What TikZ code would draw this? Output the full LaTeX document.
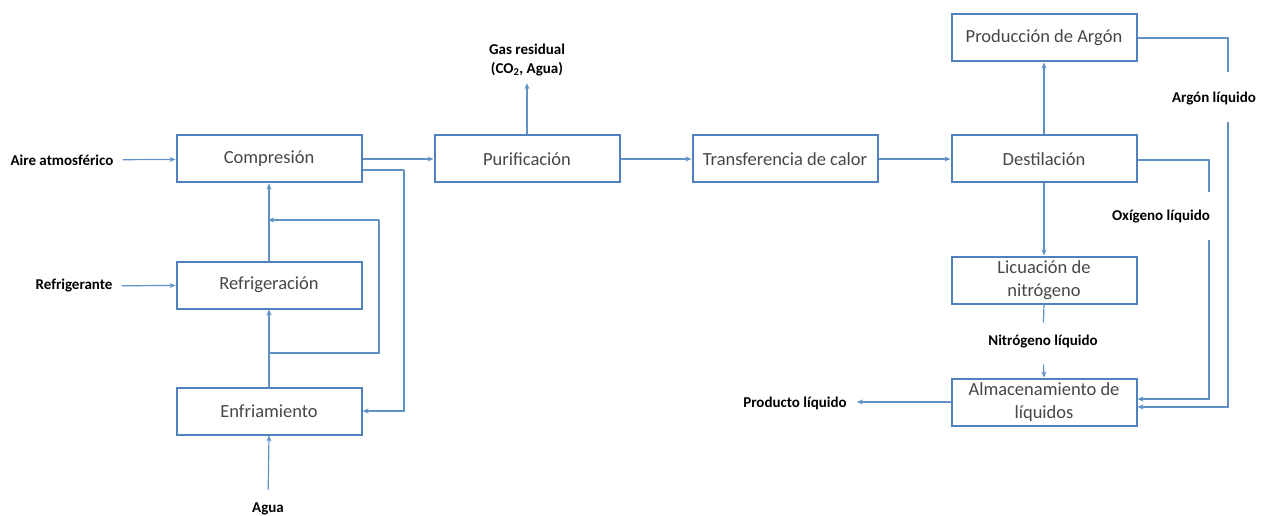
\documentclass[tikz,border=0pt]{standalone}
\usepackage{fontspec}
\setmainfont{Carlito}
\usepackage{tikz}
\usetikzlibrary{arrows.meta}
\definecolor{boxblue}{RGB}{79,129,189}
\definecolor{lineblue}{RGB}{96,146,198}
\definecolor{boxtext}{RGB}{70,70,70}

\begin{document}
\begin{tikzpicture}[x=1pt, y=-1pt,
        proc/.style={draw=boxblue, line width=2pt, minimum width=185pt, minimum height=47pt, align=center, text=boxtext, font=\fontsize{18.5}{23}\selectfont},
        lbl/.style={font=\bfseries\fontsize{15}{19}\selectfont, align=center, inner sep=0pt},
        flow/.style={draw=lineblue, line width=1.2pt, -{Stealth[length=6pt, width=5pt]}},
        pipe/.style={draw=lineblue, line width=1.2pt}]
        \useasboundingbox (0, 0) rectangle (1262, 516);
        \node[proc] (comp) at (269, 159) {Compresión};
        \node[proc] (refr) at (269, 285) {Refrigeración};
        \node[proc] (enfr) at (269, 411) {Enfriamiento};
        \node[proc] (puri) at (527, 159) {Purificación};
        \node[proc] (trans) at (785, 159) {Transferencia de calor};
        \node[proc] (dest) at (1044, 159) {Destilación};
        \node[proc] (prod) at (1044, 38) {Producción de Argón};
        \node[proc] (licu) at (1044, 280) {Licuación de\\nitrógeno};
        \node[proc] (alm) at (1044, 402) {Almacenamiento de\\líquidos};
        \node[lbl] (aire) at (62, 160) {Aire atmosférico};
        \node[lbl] (refg) at (74, 286) {Refrigerante};
        \node[lbl] (agua) at (268, 509) {Agua};
        \node[lbl] (gas) at (527, 60) {Gas residual\\(CO\textsubscript{2}, Agua)};
        \node[lbl] (argon) at (1214, 99) {Argón líquido};
        \node[lbl] (oxi) at (1161, 217) {Oxígeno líquido};
        \node[lbl] (nitro) at (1043, 342) {Nitrógeno líquido};
        \node[lbl] (prodl) at (795, 403) {Producto líquido};
        \coordinate (c1) at (404, 170);
        \coordinate (l1) at (269, 353);
        \coordinate (l2) at (379, 220);
        \coordinate (l3) at (269, 220);
        \coordinate (a1) at (1228, 72);
        \coordinate (a2) at (1228, 122);
        \coordinate (o1) at (1209, 192);
        \coordinate (o2) at (1209, 240);

        \draw[flow, shorten <=9pt] (aire) -- (comp);
        \draw[flow, shorten <=9pt] (refg) -- (refr);
        \draw[flow, shorten <=13pt] (agua.north) -- (enfr.south);
        \draw[flow] (enfr) -- (refr);
        \draw[flow] (refr) -- (comp);
        \draw[pipe] (l1) -| (l2);
        \draw[flow, shorten >=-1pt] (l2) -- (l3);
        \draw[flow] (comp.east) -- (puri.west);
        \draw[pipe] ([yshift=-11pt]comp.east) -- (c1);
        \draw[flow] (c1) |- (enfr.east);
        \draw[flow, shorten >=7pt] (puri.north) -- (gas.south);
        \draw[flow] (puri) -- (trans);
        \draw[flow] (trans) -- (dest);
        \draw[flow] (dest) -- (prod);
        \draw[flow] (dest) -- (licu);
        \draw[pipe, shorten >=13pt] (licu.south) -- (nitro.north);
        \draw[flow, shorten <=16pt] (nitro.south) -- (alm.north);
        \draw[pipe] (prod.east) -| (a1);
        \draw[flow] (a2) |- ([yshift=-5pt]alm.east);
        \draw[pipe] ([yshift=-1pt]dest.east) -| (o1);
        \draw[flow] (o2) |- ([yshift=3pt]alm.east);
        \draw[flow, shorten >=10pt] (alm.west) -- (prodl.east |- alm.west);
\end{tikzpicture}
\end{document}
